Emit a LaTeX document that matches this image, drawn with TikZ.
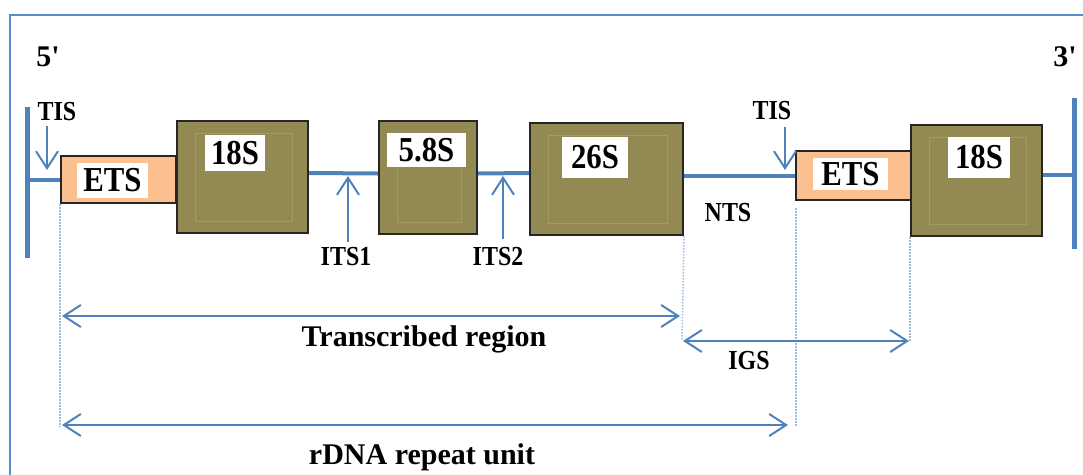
\documentclass[tikz,border=0pt]{standalone}
\usepackage{fontspec}
\setmainfont{Liberation Serif}
\newfontfamily\primefont{Liberation Serif}
\newfontfamily\tagfont{Liberation Serif}[FakeStretch=0.88]
\newfontfamily\notefont{Liberation Serif}[FakeStretch=0.87]
\usetikzlibrary{arrows.meta,calc}

\definecolor{dnablue}{HTML}{4F81BD}
\definecolor{frameblue}{HTML}{5B8BD0}
\definecolor{guideblue}{HTML}{9FBBE0}
\definecolor{rnaolive}{HTML}{938953}
\definecolor{innerolive}{HTML}{A39A68}
\definecolor{etspeach}{HTML}{FAC090}

\tikzset{
  barb/.tip={Straight Barb[length=17pt,width=22pt,line width=2pt]},
  rnabox/.style={draw=black!85, line width=2pt, fill=rnaolive, anchor=north west, inner sep=0pt},
  etsbox/.style={draw=black!85, line width=2pt, fill=etspeach, anchor=north west, inner sep=0pt},
  tag/.style={fill=white, inner sep=0pt, font=\fontsize{35}{35}\tagfont\bfseries},
  smalllabel/.style={inner sep=0pt, font=\fontsize{27.5}{27.5}\notefont\bfseries},
  biglabel/.style={inner sep=0pt, font=\fontsize{30}{30}\selectfont\bfseries},
  endlabel/.style={inner sep=0pt, font=\fontsize{30}{30}\primefont\bfseries},
  dna/.style={dnablue, line width=4pt},
  endbar/.style={dnablue, line width=5pt},
  pointer/.style={dnablue, line width=2pt, -barb},
  span/.style={dnablue, line width=2pt, barb-barb},
  guide/.style={guideblue, line width=1.5pt, dash pattern=on 1.5pt off 1.5pt},
  inset/.style={innerolive, line width=0.8pt},
}

\begin{document}
\begin{tikzpicture}[x=1pt,y=-1pt]
\useasboundingbox (0,0) rectangle (1083,474);

% outer frame (only the top and left edges fall inside the page)
\draw[frameblue, line width=2pt] (9.5,490) -- (9.5,14.5) -- (1100,14.5);

% strand ends
\coordinate (lbtop) at (27,107);
\coordinate (lbbot) at (27,258);
\coordinate (rbtop) at (1074,98);
\coordinate (rbbot) at (1074,249);
\draw[endbar] (lbtop) -- (lbbot);
\draw[endbar] (rbtop) -- (rbbot);
\node[endlabel] (five) at (48,57) {5'};
\node[endlabel] (three) at (1065,57) {3'};

% gene blocks
\node[etsbox, minimum width=115pt, minimum height=47pt] (ets1) at (60,155) {};
\node[rnabox, minimum width=131pt, minimum height=112pt] (s18a) at (176,120) {};
\node[rnabox, minimum width=98pt,  minimum height=113pt] (s58)  at (378,120) {};
\node[rnabox, minimum width=153pt, minimum height=112pt] (s26)  at (529,122) {};
\node[etsbox, minimum width=115pt, minimum height=49pt] (ets2) at (795,150) {};
\node[rnabox, minimum width=131pt, minimum height=111pt] (s18b) at (910,124) {};

% faint inner frames of the rRNA blocks
\foreach \b in {s18a,s58,s26,s18b}
  \draw[inset] ($(\b.north west)+(19,13)$) rectangle ($(\b.south east)+(-17,-13)$);

% block labels
\node[tag, minimum width=71pt, minimum height=35pt] (lets1) at (112.5,180.5) {ETS};
\node[tag, minimum width=60pt, minimum height=36pt] (l18a)  at (235,153) {18S};
\node[tag, minimum width=79pt, minimum height=34pt] (l58)   at (426.5,150) {5.8S};
\node[tag, minimum width=66pt, minimum height=41pt] (l26)   at (595,157.5) {26S};
\node[tag, minimum width=75pt, minimum height=32pt] (lets2) at (850.5,174) {ETS};
\node[tag, minimum width=62pt, minimum height=41pt] (l18b)  at (979,157.5) {18S};

% DNA backbone between blocks
\draw[dna] (ets1.west -| lbtop) -- (ets1.west);
\draw[dna] ($(s18a.east)+(0,-4)$) -- ($(s58.west)+(0,-4)$);
\draw[dna] ($(s58.east)+(0,-4)$) -- ($(s26.west)+(0,-6)$);
\draw[dna] ($(s26.east)+(0,-3)$) -- ($(s26.east -| ets2.west)+(0,-3)$);
\draw[dna] ($(s18b.east)+(0,-6)$) -- ($(s18b.east -| rbtop)+(0,-6)$);

% transcription initiation sites
\node[smalllabel] (tis1) at (57,112) {TIS};
\node[smalllabel] (tis2) at (772,111) {TIS};
\coordinate (tis1tip) at (47,170);
\coordinate (tis2tip) at (785,170);
\draw[pointer] (tis1tip |- tis1.south) ++(0,5) -- (tis1tip);
\draw[pointer] (tis2tip |- tis2.south) ++(0,7) -- (tis2tip);

% internal transcribed spacers
\node[smalllabel] (its1) at (346,257) {ITS1};
\node[smalllabel] (its2) at (498,257) {ITS2};
\coordinate (its1tip) at (348,176);
\coordinate (its2tip) at (503,176);
\draw[pointer] (its1tip |- its1.north) ++(0,-6) -- (its1tip);
\draw[pointer] (its2tip |- its2.north) ++(0,-9) -- (its2tip);

\node[smalllabel] (nts) at (728,213) {NTS};

% extension guides
\coordinate (g1) at (60,427);
\coordinate (g2) at (682,341);
\coordinate (g3) at (796,427);
\coordinate (g4) at (910,341);
\draw[guide] (ets1.south west) -- (g1);
\draw[guide] (s26.south east) -- (g2);
\draw[guide] (796,208) -- (g3);
\draw[guide] (s18b.south west) -- (g4);

% spans
\coordinate (trL) at (62,316);
\coordinate (trR) at (680,316);
\coordinate (igL) at (683,341);
\coordinate (igR) at (909,341);
\coordinate (ruL) at (62,425);
\coordinate (ruR) at (788,425);
\draw[span] (trL) -- (trR);
\draw[span] (igL) -- (igR);
\draw[span] (ruL) -- (ruR);

\node[biglabel] (trlab) at (424,339) {Transcribed region};
\node[smalllabel] (igslab) at (749,361) {IGS};
\node[biglabel] (rulab) at (422,457) {rDNA repeat unit};
\end{tikzpicture}
\end{document}
